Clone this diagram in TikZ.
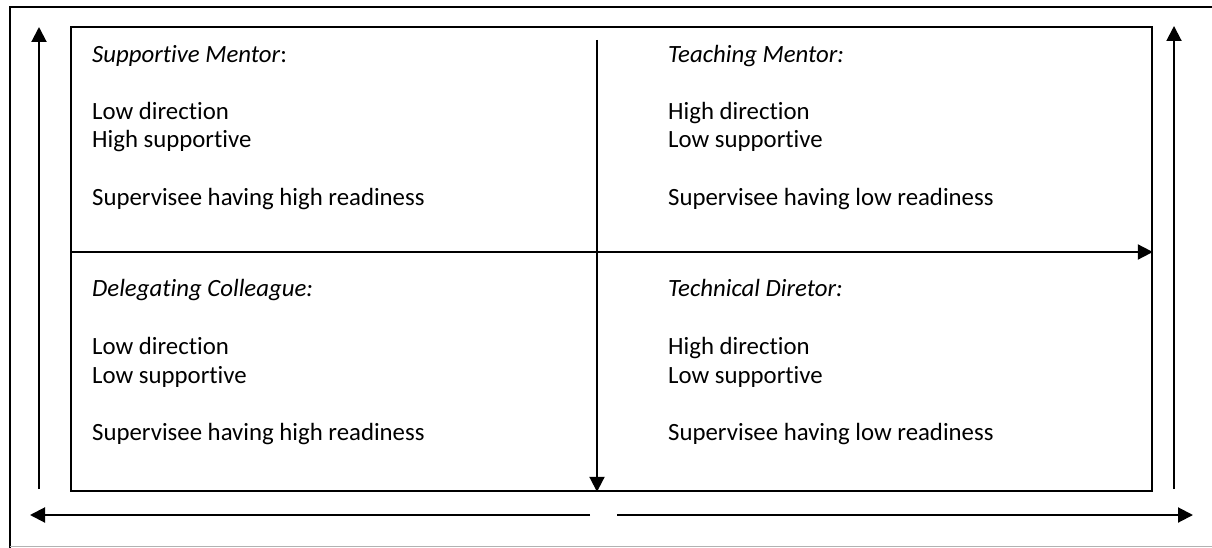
\documentclass[tikz,border=0pt]{standalone}
\usepackage{fontspec}
\setmainfont{Carlito}[Ligatures={NoCommon,NoRare,NoContextual}]
\usetikzlibrary{arrows.meta}
\begin{document}
\begin{tikzpicture}[x=1pt,y=-1pt,
  axis/.style={line width=2pt,-{Triangle[length=15pt,width=15pt]}},
  lbl/.style={anchor=base west,inner sep=0pt,font=\fontsize{24.8}{28.5}\selectfont},
]
\useasboundingbox (0,0) rectangle (1212,548);
% outer frame
\draw[line width=2.5pt] (10,548) -- (10,7) -- (1212,7);
\draw[gray!60, line width=1.5pt] (10,546.5) -- (1212,546.5);
% inner box
\node[draw, line width=1.8pt, minimum width=1081pt, minimum height=464pt,
      anchor=north west, inner sep=0pt] (box) at (70,26) {};
% dividers
\coordinate (vtop) at (597,40);
\coordinate (hmid) at (70,252);
\draw[axis] (vtop) -- (vtop |- box.south);
\draw[axis] (hmid) -- (hmid -| box.east);
% outer axes
\coordinate (la) at (39,489);
\coordinate (lb) at (39,27);
\coordinate (ra) at (1174,489);
\coordinate (rb) at (1174,26);
\coordinate (ba) at (590,515);
\coordinate (bb) at (30,515);
\coordinate (ca) at (617,515);
\coordinate (cb) at (1193,515);
\draw[axis] (la) -- (lb);
\draw[axis] (ra) -- (rb);
\draw[axis] (ba) -- (bb);
\draw[axis] (ca) -- (cb);
% quadrant texts
\node[lbl] (q1h) at (92,62.5) {\textit{Supportive Mentor}:};
\node[lbl] (q1a) at (92,119.5) {Low direction};
\node[lbl] (q1b) at (92,148) {High supportive};
\node[lbl] (q1c) at (92,205) {Supervisee having high readiness};
\node[lbl] (q2h) at (668,62.5) {\textit{Teaching Mentor:}};
\node[lbl] (q2a) at (668,119.5) {High direction};
\node[lbl] (q2b) at (668,148) {Low supportive};
\node[lbl] (q2c) at (668,205) {Supervisee having low readiness};
\node[lbl] (q3h) at (92,296) {\textit{Delegating Colleague:}};
\node[lbl] (q3a) at (92,354.5) {Low direction};
\node[lbl] (q3b) at (92,383) {Low supportive};
\node[lbl] (q3c) at (92,440) {Supervisee having high readiness};
\node[lbl] (q4h) at (668,296) {\textit{Technical Diretor:}};
\node[lbl] (q4a) at (668,354.5) {High direction};
\node[lbl] (q4b) at (668,383) {Low supportive};
\node[lbl] (q4c) at (668,440) {Supervisee having low readiness};
\end{tikzpicture}
\end{document}
